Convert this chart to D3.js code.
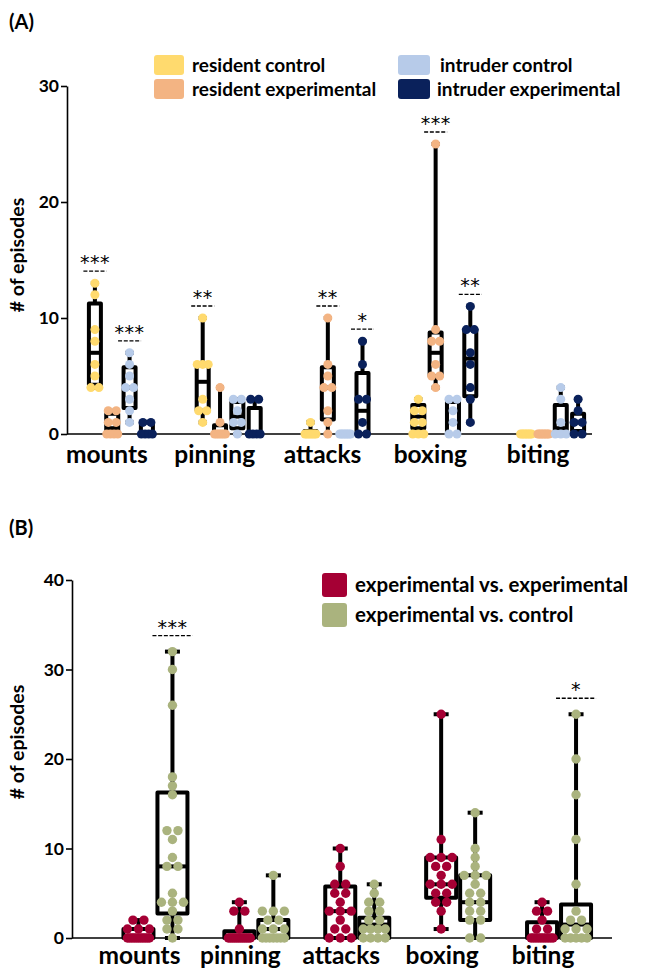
<!DOCTYPE html>
<html><head><meta charset="utf-8">
<script src="https://cdn.jsdelivr.net/npm/d3@7"></script>
<style>
html,body{margin:0;padding:0;background:#fff;}
svg{display:block;font-family:Lato,"Open Sans",sans-serif;}
</style></head>
<body>
<svg id="chart" width="645" height="970"></svg>
<script>
// ---------------- DATA ----------------
const categories = ["mounts", "pinning", "attacks", "boxing", "biting"];

// Panel A
const seriesA = ["resident control", "resident experimental", "intruder control", "intruder experimental"];
const yTicksA = [0, 10, 20, 30];
// individual points per category
const residentControlPts = [[13,12,9,8,6,5,4,4],[10,6,6,6,3,2,2,1],[1,0,0,0,0,0,0,0],[3,2,2,1,1,0,0,0],[0,0,0,0,0,0,0,0]];
const residentExperimentalPts = [[2,2,1,1,0,0,0,0],[4,1,0,0,0,0,0,0],[10,6,5,4,4,2,1,0],[25,9,8,8,6,5,5,4],[0,0,0,0,0,0,0,0]];
const intruderControlPts = [[7,6,5,4,4,3,2,1],[3,3,2,1,1,0],[0,0,0,0,0,0,0,0],[3,3,2,1,0,0],[4,3,1,0,0,0]];
const intruderExperimentalPts = [[1,1,0,0,0,0],[3,3,0,0,0,0],[8,6,3,3,1,0,0],[11,9,9,7,6,4,3,1],[3,2,1,1,0,0]];
// box summaries [min, q1, median, q3, max]
const residentControlBox = [[4,4.25,7,11.25,13],[1,2,4.5,6,10],[0,0,0,0.25,1],[0,0.5,1.5,2.5,3],[0,0,0,0,0]];
const residentExperimentalBox = [[0,0,0.5,1.75,2],[0,0,0,0.75,4],[0,1.25,4,5.75,10],[4,5,7,8.75,25],[0,0,0,0,0]];
const intruderControlBox = [[1,2.25,4,5.75,7],[0,0.5,1.5,2.75,3],[0,0,0,0,0],[0,0,1,2.75,3],[0,0,0.5,2.5,4]];
const intruderExperimentalBox = [[0,0,0,1,1],[0,0,0,2.25,3],[0,0,2,5.25,8],[1,3.25,6.5,9,11],[0,0.25,1,1.75,3]];
const sigA = [
  {category:"mounts", series:0, label:"***"},
  {category:"mounts", series:2, label:"***"},
  {category:"pinning", series:0, label:"**"},
  {category:"attacks", series:1, label:"**"},
  {category:"attacks", series:3, label:"*"},
  {category:"boxing", series:1, label:"***"},
  {category:"boxing", series:3, label:"**"}
];

// Panel B
const seriesB = ["experimental vs. experimental", "experimental vs. control"];
const yTicksB = [0, 10, 20, 30, 40];
const expVsExpPts = [[2,2,1,1,1,0,0,0,0,0,0,0,0,0,0,0],[4,3,3,1,0,0,0,0,0,0,0,0,0,0,0,0],[10,8,6,6,5,5,4,3,3,3,2,1,1,0,0,0],[25,11,9,9,9,8,8,7,6,6,6,5,5,4,4,3,1],[4,3,3,2,1,1,0,0,0,0,0,0,0,0,0,0]];
const expVsCtrlPts = [[32,30,26,18,17,16,12,12,11,9,8,8,5,4,4,4,3,2,2,1,1,0],[7,3,3,3,2,2,1,1,1,0,0,0,0,0,0,0],[6,5,4,4,3,3,2,2,1,1,1,1,0,0,0,0],[14,10,9,8,7,7,7,6,5,5,4,4,3,3,2,2,0,0],[25,20,16,11,6,3,2,2,1,1,1,0,0,0,0,0]];
const expVsExpBox = [[0,0,0,1,2],[0,0,0,0.75,4],[0,0,3,5.75,10],[1,4.5,6,9,25],[0,0,0,1.75,4]];
const expVsCtrlBox = [[0,2.75,8,16.25,32],[0,0,1,2,7],[0,0,1.5,2.25,6],[0,2,4,7,14],[0,0,1.5,3.75,25]];
const sigB = [
  {category:"mounts", series:1, label:"***"},
  {category:"biting", series:1, label:"*"}
];

// ---------------- STYLE ----------------
const colorsA = ["#FFDA6E", "#F3B483", "#B7CBE9", "#0A215B"];
const colorsB = ["#A50034", "#AAB37E"];

const svg = d3.select("#chart");

function dotLayout(values, cx, spacing, maxSpan) {
  const counts = d3.rollup(values, v => v.length, d => d);
  const seen = new Map();
  return values.map(v => {
    const k = counts.get(v);
    const i = seen.get(v) || 0; seen.set(v, i + 1);
    const s = k > 1 ? Math.min(spacing, maxSpan / (k - 1)) : 0;
    return {v, x: cx + (i - (k - 1) / 2) * s};
  });
}

function drawPanel(cfg) {
  const g = svg.append("g");
  const y = d3.scaleLinear().domain(cfg.yDomain).range(cfg.yRange);
  const x = d3.scaleBand().domain(categories).range(cfg.xRange);
  const sub = d3.scalePoint().domain(d3.range(cfg.series.length)).range(cfg.subRange);

  // y axis
  const ya = g.append("g").attr("transform", `translate(${cfg.axisX},0)`)
    .call(d3.axisLeft(y).tickValues(cfg.yTicks).tickSize(6).tickSizeOuter(0).tickPadding(2));
  ya.select(".domain").attr("stroke", "#000").attr("stroke-width", 1.6);
  ya.selectAll(".tick line").attr("stroke", "#000").attr("stroke-width", 1.6);
  ya.selectAll(".tick text").attr("font-family", "Lato").attr("font-weight", 700).attr("font-size", 17.5).attr("fill", "#000");

  // x axis baseline
  g.append("line").attr("x1", cfg.axisX).attr("x2", cfg.axisEnd)
    .attr("y1", y(0)).attr("y2", y(0)).attr("stroke", "#000").attr("stroke-width", 1.6);
  const xa = g.append("g").attr("transform", `translate(0,${y(0)})`)
    .call(d3.axisBottom(x).tickSize(0).tickPadding(cfg.labelPad));
  xa.select(".domain").remove();
  xa.selectAll(".tick text").attr("dx", cfg.labelShift).attr("font-family", "Lato")
    .attr("font-weight", 700).attr("font-size", 24.5).attr("fill", "#000");

  // y title
  g.append("text").attr("transform", `translate(${cfg.titleX},${cfg.titleY}) rotate(-90)`)
    .attr("text-anchor", "middle").attr("font-family", "Lato").attr("font-weight", 700)
    .attr("font-size", 19.5).text("# of episodes");

  // boxes
  cfg.series.forEach((s, j) => {
    categories.forEach((c, i) => {
      const cx = x(c) + x.bandwidth() / 2 + sub(j);
      const [mn, q1, md, q3, mx] = cfg.boxes[j][i];
      const bw = cfg.boxW, cw = cfg.capW;
      const gg = g.append("g");
      gg.append("line").attr("x1", cx).attr("x2", cx).attr("y1", y(mn)).attr("y2", y(mx))
        .attr("stroke", "#000").attr("stroke-width", cfg.lw);
      [mn, mx].forEach(v => gg.append("line").attr("x1", cx - cw / 2).attr("x2", cx + cw / 2)
        .attr("y1", y(v)).attr("y2", y(v)).attr("stroke", "#000").attr("stroke-width", cfg.lw));
      gg.append("rect").attr("x", cx - bw / 2).attr("y", y(q3)).attr("width", bw)
        .attr("height", Math.max(0, y(q1) - y(q3))).attr("fill", "#fff")
        .attr("stroke", "#000").attr("stroke-width", cfg.lw).attr("stroke-linejoin", "round");
      gg.append("line").attr("x1", cx - bw / 2).attr("x2", cx + bw / 2).attr("y1", y(md)).attr("y2", y(md))
        .attr("stroke", "#000").attr("stroke-width", cfg.lw);
    });
  });
  // dots
  cfg.series.forEach((s, j) => {
    categories.forEach((c, i) => {
      const cx = x(c) + x.bandwidth() / 2 + sub(j);
      const pts = dotLayout(cfg.points[j][i], cx, cfg.dotSpacing, cfg.maxSpan);
      g.append("g").selectAll("circle").data(pts).join("circle")
        .attr("cx", d => d.x).attr("cy", d => y(d.v)).attr("r", cfg.r).attr("fill", cfg.colors[j]);
    });
  });
  // significance
  cfg.sig.forEach(sg => {
    const i = categories.indexOf(sg.category);
    const cx = x(sg.category) + x.bandwidth() / 2 + sub(sg.series);
    const top = y(d3.max(cfg.points[sg.series][i]));
    const dy = top - cfg.dashGap;
    g.append("line").attr("x1", cx - cfg.dashW / 2).attr("x2", cx + cfg.dashW / 2)
      .attr("y1", dy).attr("y2", dy).attr("stroke", "#000").attr("stroke-width", 1.3)
      .attr("stroke-dasharray", "4,1.7");
    g.append("text").attr("x", cx).attr("y", dy - 2).attr("text-anchor", "middle")
      .attr("font-family", "DejaVu Sans").attr("font-size", 19).attr("letter-spacing", 0.5)
      .text(sg.label);
  });
  // legend
  cfg.legend.forEach((L, j) => {
    svg.append("rect").attr("x", L.x).attr("y", L.y).attr("width", L.w).attr("height", L.h)
      .attr("rx", 3).attr("fill", cfg.colors[j]);
    svg.append("text").attr("x", L.x + L.w + L.gap).attr("y", L.y + L.h / 2 + 6.5)
      .attr("font-family", "Lato").attr("font-weight", 700).attr("font-size", cfg.legendSize)
      .text(cfg.series[j]);
  });
}

// panel letters
svg.append("text").attr("x", 9).attr("y", 29).attr("font-family", "Lato").attr("font-weight", 700)
  .attr("font-size", 20).text("(A)");
svg.append("text").attr("x", 9).attr("y", 535).attr("font-family", "Lato").attr("font-weight", 700)
  .attr("font-size", 20).text("(B)");

drawPanel({
  series: seriesA, colors: colorsA, yDomain: [0, 30], yRange: [434, 86], yTicks: yTicksA,
  xRange: [67, 606], subRange: [-26, 26], axisX: 67, axisEnd: 592,
  labelPad: 12, labelShift: -14, titleX: 24, titleY: 255,
  boxes: [residentControlBox, residentExperimentalBox, intruderControlBox, intruderExperimentalBox],
  points: [residentControlPts, residentExperimentalPts, intruderControlPts, intruderExperimentalPts],
  boxW: 12, capW: 8, lw: 4, r: 4.5, dotSpacing: 8, maxSpan: 11,
  sig: sigA, dashGap: 12, dashW: 23, legendSize: 19,
  legend: [
    {x: 154, y: 55, w: 30, h: 20, gap: 8},
    {x: 154, y: 79, w: 30, h: 20, gap: 8},
    {x: 398, y: 55, w: 32, h: 20, gap: 10},
    {x: 398, y: 79, w: 32, h: 20, gap: 7}
  ]
});

drawPanel({
  series: seriesB, colors: colorsB, yDomain: [0, 40], yRange: [938, 580], yTicks: yTicksB,
  xRange: [105, 609.5], subRange: [-17, 17], axisX: 72, axisEnd: 612,
  labelPad: 9, labelShift: -16, titleX: 24, titleY: 742,
  boxes: [expVsExpBox, expVsCtrlBox],
  points: [expVsExpPts, expVsCtrlPts],
  boxW: 30, capW: 15, lw: 4, r: 4.7, dotSpacing: 11, maxSpan: 22,
  sig: sigB, dashGap: 16, dashW: 40, legendSize: 20.5,
  legend: [
    {x: 322, y: 573, w: 25, h: 24, gap: 8},
    {x: 322, y: 603, w: 25, h: 24, gap: 8}
  ]
});
</script>
</body></html>
